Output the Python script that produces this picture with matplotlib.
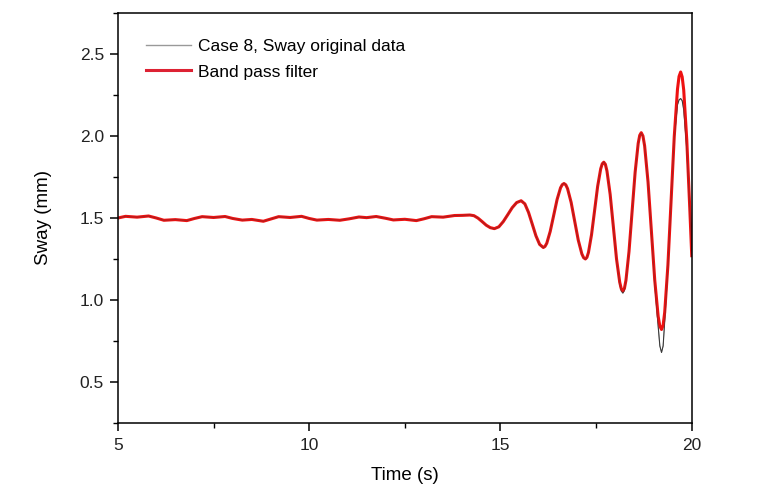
######################
# Sway time series: original vs band pass filtered
######################
import numpy as np
from matplotlib import pyplot as plt
from matplotlib.ticker import MultipleLocator

# flat part (5 - 14.0 s)
t_flat = [5.0, 5.2, 5.5, 5.8, 6.0, 6.2, 6.5, 6.8, 7.0, 7.2, 7.5, 7.8, 8.0, 8.25,
          8.5, 8.8, 9.0, 9.2, 9.5, 9.8, 10.0, 10.2, 10.5, 10.8, 11.05, 11.3,
          11.5, 11.75, 12.0, 12.2, 12.5, 12.8, 13.0, 13.2, 13.5, 13.8, 14.0]
v_flat = [1.500, 1.510, 1.505, 1.512, 1.500, 1.486, 1.490, 1.484, 1.497, 1.508,
          1.503, 1.509, 1.497, 1.487, 1.491, 1.480, 1.494, 1.508, 1.503, 1.510,
          1.497, 1.487, 1.491, 1.486, 1.495, 1.506, 1.502, 1.509, 1.498, 1.488,
          1.492, 1.484, 1.495, 1.508, 1.505, 1.515, 1.516]

# growing oscillation (14.2 - 20 s)
t_wave = [14.20, 14.307, 14.413, 14.52, 14.627, 14.733, 14.84,
          14.957, 15.073, 15.19, 15.307, 15.423, 15.54,
          15.637, 15.733, 15.83, 15.927, 16.023, 16.12,
          16.165, 16.21, 16.30, 16.39, 16.48, 16.57, 16.615, 16.66,
          16.707, 16.753, 16.847, 16.94, 17.033, 17.127, 17.173, 17.22,
          17.26, 17.30, 17.38, 17.46, 17.54, 17.62, 17.66, 17.70,
          17.742, 17.783, 17.867, 17.95, 18.033, 18.117, 18.158, 18.20,
          18.24, 18.28, 18.36, 18.44, 18.52, 18.60, 18.64, 18.68,
          18.724, 18.768, 18.857, 18.945, 19.033, 19.122, 19.166, 19.21,
          19.252, 19.293, 19.377, 19.46, 19.543, 19.627, 19.668, 19.71,
          19.75, 19.79, 19.87, 19.95, 20.0]
v_filt_wave = [1.518, 1.514, 1.499, 1.478, 1.456, 1.441, 1.435,
               1.446, 1.478, 1.520, 1.563, 1.594, 1.605,
               1.586, 1.534, 1.463, 1.391, 1.339, 1.320,
               1.327, 1.346, 1.418, 1.515, 1.613, 1.684, 1.703, 1.710,
               1.702, 1.679, 1.595, 1.480, 1.365, 1.281, 1.258, 1.250,
               1.260, 1.290, 1.398, 1.545, 1.693, 1.800, 1.830, 1.840,
               1.827, 1.787, 1.644, 1.448, 1.251, 1.108, 1.068, 1.055,
               1.071, 1.120, 1.296, 1.538, 1.779, 1.955, 2.004, 2.020,
               2.000, 1.940, 1.720, 1.420, 1.120, 0.900, 0.840, 0.820,
               0.847, 0.925, 1.213, 1.605, 1.998, 2.285, 2.363, 2.390,
               2.360, 2.280, 1.975, 1.550, 1.270]
v_orig_wave = [1.520, 1.513, 1.500, 1.477, 1.455, 1.440, 1.433,
               1.445, 1.478, 1.521, 1.562, 1.595, 1.606,
               1.587, 1.533, 1.462, 1.390, 1.337, 1.318,
               1.325, 1.345, 1.419, 1.516, 1.612, 1.686, 1.705, 1.712,
               1.703, 1.680, 1.594, 1.479, 1.364, 1.279, 1.255, 1.247,
               1.258, 1.289, 1.399, 1.546, 1.692, 1.801, 1.832, 1.842,
               1.828, 1.786, 1.642, 1.445, 1.245, 1.096, 1.055, 1.042,
               1.058, 1.115, 1.295, 1.537, 1.777, 1.952, 2.002, 2.018,
               1.998, 1.938, 1.716, 1.410, 1.095, 0.840, 0.720, 0.680,
               0.720, 0.870, 1.200, 1.600, 1.985, 2.190, 2.220, 2.228,
               2.215, 2.160, 1.920, 1.550, 1.300]

t = np.array(t_flat + t_wave)
sway_orig = np.array(v_flat + v_orig_wave)
sway_filt = np.array(v_flat + v_filt_wave)

plt.rcParams['font.family'] = ['Liberation Sans', 'DejaVu Sans']
plt.rc('axes', linewidth=1.1)

fig = plt.figure(figsize=(7.61, 4.98), dpi=100)
ax1 = fig.add_axes([0.155, 0.1506, 0.754, 0.8234])

ax1.plot(t, sway_orig, color='#3a3a3a', lw=0.8, label='Case 8, Sway original data',
         solid_joinstyle='round')
ax1.plot(t, sway_filt, color='#ee1111', lw=2.2, label='Band pass filter',
         solid_joinstyle='round')
ax1.plot(t, sway_orig, color='#3a3a3a', lw=0.6, alpha=0.45)

ax1.set_xlim(5, 20)
ax1.set_ylim(0.25, 2.75)
ax1.xaxis.set_major_locator(MultipleLocator(5))
ax1.xaxis.set_minor_locator(MultipleLocator(2.5))
ax1.yaxis.set_minor_locator(MultipleLocator(0.25))
ax1.set_yticks([0.5, 1.0, 1.5, 2.0, 2.5])
ax1.set_yticklabels(['0.5', '1.0', '1.5', '2.0', '2.5'])
ax1.tick_params(which='major', direction='out', length=6, width=1.1,
                labelsize=12.5, labelcolor='#222222', pad=4)
ax1.tick_params(axis='x', which='major', pad=5)
ax1.tick_params(which='minor', direction='out', length=3.5, width=1.0)

ax1.set_xlabel('Time (s)', fontsize=13.5, labelpad=10)
ax1.set_ylabel('Sway (mm)', fontsize=13.5, labelpad=20)

leg = ax1.legend(loc='upper left', bbox_to_anchor=(0.022, 0.975), frameon=False,
                 fontsize=12.5, handlelength=2.6, handletextpad=0.4,
                 labelspacing=0.6)
leg.get_lines()[0].set_color('#999999')
leg.get_lines()[0].set_linewidth(1.0)
leg.get_lines()[1].set_color('#dd2233')

fig.savefig('out.png', dpi=100)
